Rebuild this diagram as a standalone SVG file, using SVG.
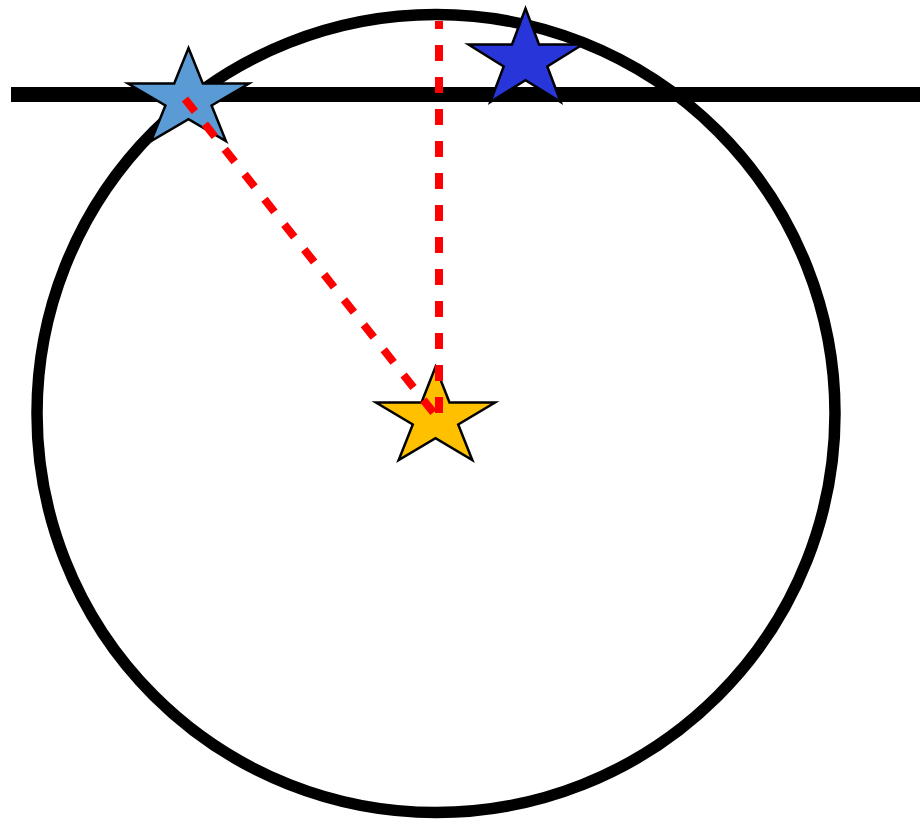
<svg xmlns="http://www.w3.org/2000/svg" width="920" height="819" viewBox="0 0 920 819">
  <style>
    .star { stroke: #000000; stroke-width: 2.5; stroke-linejoin: miter; stroke-miterlimit: 10; }
    .ray { stroke: #FF0000; stroke-width: 8; stroke-dasharray: 16 16; fill: none; }
  </style>
  <rect width="920" height="819" fill="#FFFFFF"/>
  <g id="circle">
    <circle cx="436" cy="413.5" r="399" fill="none" stroke="#000000" stroke-width="11.5"/>
  </g>
  <g id="horizon">
    <line x1="11" y1="94.5" x2="920" y2="94.5" stroke="#000000" stroke-width="15"/>
  </g>
  <g id="star-lightblue">
    <polygon class="star" fill="#5B9BD5" points="188.5,48 202.8,83.5 249,83.5 211.6,105.5 225.9,141 188.5,119.1 151.1,141 165.4,105.5 128,83.5 174.2,83.5"/>
  </g>
  <g id="star-blue">
    <polygon class="star" fill="#2835D9" points="525.5,8.5 539,44.5 582.5,44.5 547.3,66.5 560.7,102 525.5,80.1 490.3,102 503.7,66.5 468.5,44.5 512,44.5"/>
  </g>
  <g id="star-yellow">
    <polygon class="star" fill="#FFC000" points="435.5,367 449.5,402.5 495,402.5 458.2,424.5 472.3,460 435.5,438.1 398.7,460 412.8,424.5 376,402.5 421.5,402.5"/>
  </g>
  <g id="connectors">
    <line class="ray" x1="439" y1="21" x2="439" y2="413" stroke-dashoffset="8"/>
    <line class="ray" x1="185" y1="99" x2="433.6" y2="412.8"/>
  </g>
</svg>
